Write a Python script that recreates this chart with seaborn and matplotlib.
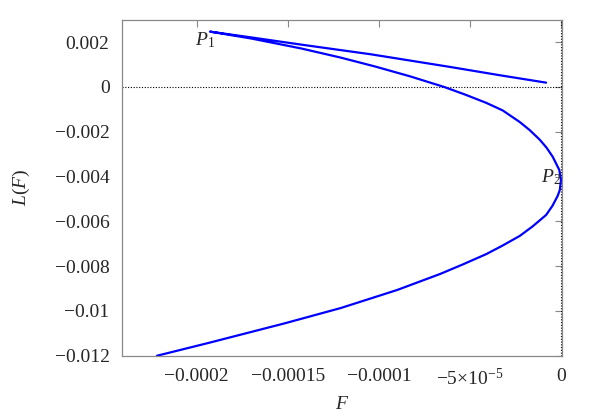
import numpy as np
import pandas as pd
import seaborn as sns
import matplotlib.pyplot as plt
from matplotlib.ticker import FixedLocator, FixedFormatter

# curve L(F), in drawing order
# (upper arm end -> P1 -> down round P2 -> lower end)
F = [-8.18e-6, -3.365e-5, -6.09e-5, -1.046e-4, -1.427e-4, -1.7e-4, -1.927e-4,
     -1.7e-4, -1.427e-4, -1.209e-4, -1.018e-4, -8.27e-5, -6.42e-5, -5.27e-5,
     -4.09e-5, -3.2e-5, -2.27e-5, -1.729e-5, -1.18e-5, -8.02e-6, -4.58e-6,
     -9.3e-7, 0.0,
     -6.5e-7, -1.85e-6, -4.75e-6, -8.18e-6, -1.565e-5, -2.27e-5, -3.2e-5,
     -4.09e-5, -5.38e-5, -6.64e-5, -9.0e-5, -1.209e-4, -1.52e-4, -1.936e-4,
     -2.218e-4]
L = [0.000192, 0.000523, 0.000893, 0.00146, 0.00189, 0.00221, 0.00247,
     0.002161, 0.001719, 0.001309, 0.000907, 0.000469, 0.0, -0.000339,
     -0.000715, -0.001049, -0.001563, -0.00192, -0.002345, -0.002702, -0.003113,
     -0.003707, -0.004153,
     -0.0046, -0.004868, -0.005315, -0.005716, -0.00623, -0.006654, -0.007078,
     -0.007458, -0.00792, -0.008351, -0.009066, -0.00987, -0.01056, -0.01143,
     -0.0120]

xticks = [-0.0002, -0.00015, -0.0001, -0.00005, 0]
xticklabels = ['\u22120.0002', '\u22120.00015', '\u22120.0001',
               r'$\mathregular{-5{\times}10^{-5}}$', '0']
yticks = [0.002, 0, -0.002, -0.004, -0.006, -0.008, -0.01, -0.012]
yticklabels = ['0.002', '0', '\u22120.002', '\u22120.004', '\u22120.006',
               '\u22120.008', '\u22120.01', '\u22120.012']

sns.set_style('white')
plt.rcParams['font.family'] = ['Liberation Serif', 'DejaVu Serif']
plt.rcParams['mathtext.fontset'] = 'custom'
plt.rcParams['mathtext.rm'] = 'Liberation Serif'
plt.rcParams['mathtext.it'] = 'Liberation Serif:italic'

df = pd.DataFrame({'F': F, 'L': L})

fig = plt.figure(figsize=(5.99, 4.2), dpi=100)
ax = fig.add_axes([0.2037, 0.153, 0.7353, 0.8])

ax.axhline(0, color='black', lw=0.8, ls=(0, (1, 1.5)))
ax.axvline(0, color='black', lw=0.8, ls=(0, (1, 1.5)))
sns.lineplot(data=df, x='F', y='L', sort=False, estimator=None,
             color='#0000ff', lw=1.6, ax=ax)
ax.lines[-1].set_solid_joinstyle('round')

ax.set_xlim(-0.000241, 0.0000008)
ax.set_ylim(-0.012, 0.003)

ax.xaxis.set_major_locator(FixedLocator(xticks))
ax.xaxis.set_major_formatter(FixedFormatter(xticklabels))
ax.yaxis.set_major_locator(FixedLocator(yticks))
ax.yaxis.set_major_formatter(FixedFormatter(yticklabels))
ax.tick_params(direction='in', length=5, width=0.8, color='#888888',
               labelsize=14, top=True, right=True, pad=9)

for s in ax.spines.values():
    s.set_color('#888888')
    s.set_linewidth(0.9)

ax.set_xlabel('$F$', fontsize=14, labelpad=5)
ax.set_ylabel('$L(F)$', fontsize=14, labelpad=16)

ax.text(-0.00019, 0.00188, '$P_1$', fontsize=14, ha='right', va='baseline')
ax.text(0.0, -0.00424, '$P_2$', fontsize=14, ha='right', va='baseline')

fig.savefig('out.png', dpi=100)
